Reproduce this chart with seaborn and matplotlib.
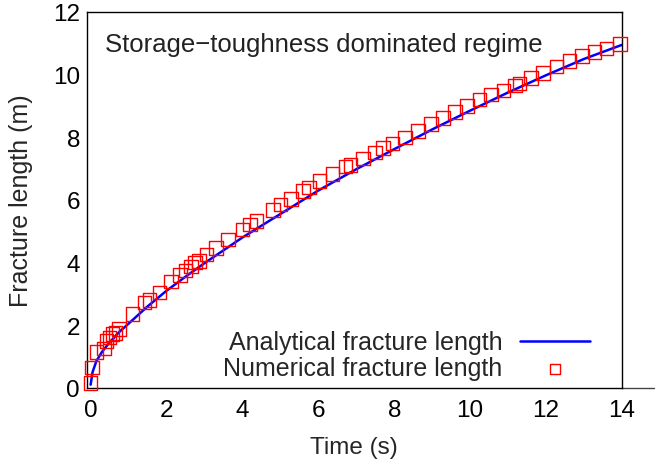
import pandas as pd
import numpy as np
import seaborn as sns
import matplotlib.pyplot as plt

# analytical curve
t_ana = [0.0, 0.05, 0.15, 0.3, 0.5, 0.75, 1.0, 1.5, 2.0, 2.5, 3.0, 4.0, 5.0, 6.0,
         7.0, 8.0, 9.0, 10.0, 11.0, 12.0, 13.0, 14.0]
L_ana = [0.1, 0.5, 0.85, 1.15, 1.45, 1.78, 2.05, 2.6, 3.1, 3.55, 3.98, 4.8, 5.55, 6.3,
         6.98, 7.62, 8.25, 8.85, 9.43, 9.98, 10.5, 10.95]

# numerical points
t_num = [0.0, 0.03, 0.15, 0.35, 0.42, 0.5, 0.57, 0.65, 0.75, 1.1, 1.42, 1.55, 1.82,
         2.12, 2.35, 2.5, 2.65, 2.75, 2.85, 3.05, 3.3, 3.62, 4.0, 4.2, 4.37, 4.8, 5.0,
         5.28, 5.6, 5.75, 6.03, 6.37, 6.72, 6.85, 7.18, 7.5, 7.7, 7.95, 8.28, 8.62,
         8.97, 9.28, 9.6, 9.92, 10.25, 10.55, 10.88, 11.18, 11.3, 11.6, 11.92, 12.28,
         12.62, 12.95, 13.28, 13.6, 13.95]
L_num = [0.15, 0.65, 1.15, 1.25, 1.5, 1.6, 1.72, 1.75, 1.88, 2.35, 2.72, 2.8, 3.05,
         3.4, 3.6, 3.75, 3.88, 4.0, 4.05, 4.25, 4.47, 4.74, 5.05, 5.22, 5.32, 5.68, 5.85,
         6.03, 6.28, 6.4, 6.6, 6.82, 7.06, 7.12, 7.32, 7.52, 7.66, 7.8, 8.0, 8.2,
         8.42, 8.62, 8.8, 9.0, 9.2, 9.36, 9.5, 9.66, 9.72, 9.9, 10.06, 10.26,
         10.44, 10.6, 10.72, 10.84, 10.98]

ana = pd.DataFrame({'time': t_ana, 'length': L_ana})
num = pd.DataFrame({'time': t_num, 'length': L_num})

sns.set_style('white')
plt.rcParams['font.family'] = ['Liberation Sans', 'DejaVu Sans']

fig = plt.figure(figsize=(6.63, 4.64), dpi=100)
ax = fig.add_axes([0.131, 0.162, 0.807, 0.810])

sns.lineplot(data=ana, x='time', y='length', color='#0000ff', linewidth=1.8,
             label='Analytical fracture length', ax=ax)
sns.scatterplot(data=num, x='time', y='length', marker='s', s=95,
                facecolor='none', edgecolor='#ff0000', linewidth=1.0,
                label='Numerical fracture length', ax=ax, clip_on=False, zorder=3)

ax.set_xlim(-0.1, 14)
ax.set_ylim(0, 12)
ax.set_xticks(range(0, 15, 2))
ax.set_yticks(range(0, 13, 2))
ax.set_xticks(range(1, 15, 2), minor=True)
ax.set_yticks(range(1, 12, 2), minor=True)
ax.tick_params(which='both', direction='in', top=False, right=False,
               colors='black', labelsize=17.5, width=0.8)
ax.tick_params(axis='x', which='major', length=6, pad=8)
ax.tick_params(axis='y', which='major', length=6, pad=5)
ax.tick_params(which='minor', length=3)
for sp in ax.spines.values():
    sp.set_color('black')
    sp.set_linewidth(1.0)
# gnuplot-style zero axis running past the border
ax.plot([1, 1.06], [0, 0], transform=ax.transAxes, color='#444444',
        linewidth=1.0, clip_on=False)

ax.set_xlabel('Time (s)', fontsize=17.5, labelpad=11)
ax.set_ylabel('Fracture length (m)', fontsize=18, labelpad=14)

ax.text(0.034, 0.915, 'Storage\u2212toughness dominated regime', transform=ax.transAxes,
        fontsize=18.5, va='center', ha='left', color='#222222')

leg = ax.legend(loc='lower right', bbox_to_anchor=(0.94, 0.02), frameon=False,
                markerfirst=False, fontsize=18, handlelength=2.8, handletextpad=0.7,
                labelspacing=0.08, borderpad=0, borderaxespad=0)
leg.legend_handles[1].set_sizes([55])

plt.savefig('out.png', dpi=100)
